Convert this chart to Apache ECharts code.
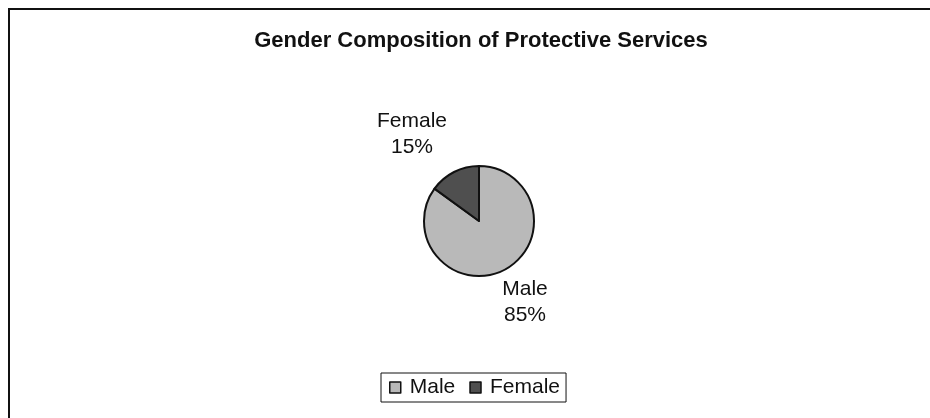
<!DOCTYPE html>
<html>
<head>
<meta charset="utf-8">
<script src="https://cdn.jsdelivr.net/npm/echarts@6/dist/echarts.min.js"></script>
<style>
html,body{margin:0;padding:0;background:#fff;}
#chart{width:930px;height:418px;}
</style>
</head>
<body>
<div id="chart"></div>
<script>
const titleText = "Gender Composition of Protective Services";
const categories = ["Male", "Female"];
const values = [85, 15];
const colors = ["#b9b9b9", "#4f4f4f"];

const chart = echarts.init(document.getElementById('chart'), null, {renderer: 'canvas'});
const labelPos = {0: [525, 302], 1: [412, 134]};

const option = {
  animation: false,
  backgroundColor: '#fff',
  title: {
    text: titleText,
    left: 476, top: 25, textAlign: 'center',
    textStyle: {fontFamily: 'Liberation Sans, Arial', fontWeight: 'bold', fontSize: 22, color: '#111'}
  },
  graphic: [{
    type: 'rect', shape: {x: 9, y: 9, width: 940, height: 430},
    style: {fill: 'none', stroke: '#111', lineWidth: 2}, silent: true, z: -1
  }],
  legend: {
    data: categories,
    left: 381, top: 373,
    orient: 'horizontal',
    padding: [4, 6, 4, 8],
    itemGap: 14,
    borderColor: '#111', borderWidth: 1,
    icon: 'rect', itemWidth: 11, itemHeight: 11,
    itemStyle: {borderColor: '#111', borderWidth: 1.5},
    textStyle: {fontFamily: 'Liberation Sans, Arial', fontSize: 21, color: '#111', padding: [0,0,0,4]}
  },
  series: [{
    type: 'pie',
    center: [479, 221],
    radius: 55,
    startAngle: 90,
    clockwise: true,
    data: categories.map((c, i) => ({name: c, value: values[i], itemStyle: {color: colors[i]}})),
    itemStyle: {borderColor: '#111', borderWidth: 2},
    label: {
      show: true, position: 'outside',
      formatter: p => p.name + '\n' + Math.round(p.percent) + '%',
      fontFamily: 'Liberation Sans, Arial', fontSize: 21, lineHeight: 26, color: '#111',
      align: 'center'
    },
    labelLine: {show: false},
    labelLayout: function (params) {
      const p = labelPos[params.dataIndex];
      return {x: p[0], y: p[1], align: 'center', verticalAlign: 'middle'};
    },
    emphasis: {disabled: true}
  }]
};
chart.setOption(option);
</script>
</body>
</html>
